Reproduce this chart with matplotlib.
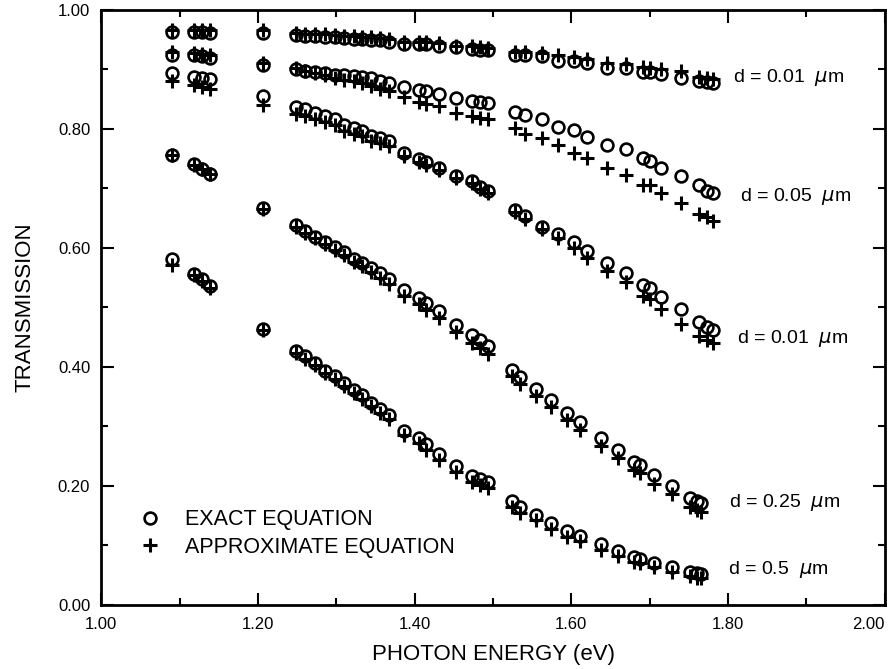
import matplotlib
matplotlib.use("Agg")
import matplotlib.pyplot as plt
from matplotlib.ticker import MultipleLocator

plt.rcParams['font.family'] = ['Liberation Sans', 'DejaVu Sans']

# photon energies (eV); the last group differs a little for the thick films
energy_thin = [1.090, 1.118, 1.128, 1.139, 1.207,
               1.248, 1.260, 1.273, 1.286, 1.298, 1.310, 1.322, 1.333, 1.344, 1.356,
               1.367, 1.386, 1.405, 1.415, 1.431, 1.453, 1.473, 1.483, 1.494,
               1.528, 1.541, 1.562, 1.583, 1.603, 1.620, 1.645, 1.670, 1.691, 1.701,
               1.715, 1.740, 1.763, 1.773, 1.781]
energy_thick = [1.090, 1.118, 1.128, 1.139, 1.207,
                1.248, 1.260, 1.273, 1.286, 1.298, 1.310, 1.322, 1.333, 1.344, 1.356,
                1.367, 1.386, 1.405, 1.415, 1.431, 1.453, 1.473, 1.483, 1.494,
                1.524, 1.535, 1.555, 1.574, 1.595, 1.611, 1.638, 1.659, 1.680, 1.688,
                1.705, 1.728, 1.752, 1.760, 1.766]

exact_1 = [0.963, 0.963, 0.963, 0.962, 0.961,
           0.958, 0.957, 0.956, 0.955, 0.954, 0.953, 0.952, 0.951, 0.950, 0.949,
           0.947, 0.943, 0.942, 0.942, 0.940, 0.937, 0.934, 0.933, 0.932,
           0.925, 0.925, 0.922, 0.915, 0.914, 0.911, 0.902, 0.903, 0.896, 0.895,
           0.893, 0.886, 0.880, 0.879, 0.877]
approx_1 = [0.967, 0.967, 0.967, 0.966, 0.966,
            0.961, 0.960, 0.960, 0.959, 0.958, 0.957, 0.956, 0.955, 0.954, 0.953,
            0.951, 0.947, 0.946, 0.947, 0.944, 0.940, 0.939, 0.937, 0.936,
            0.929, 0.930, 0.927, 0.924, 0.921, 0.918, 0.911, 0.909, 0.904, 0.903,
            0.900, 0.897, 0.888, 0.885, 0.884]

exact_2 = [0.925, 0.924, 0.922, 0.920, 0.907,
           0.900, 0.898, 0.896, 0.894, 0.891, 0.890, 0.889, 0.887, 0.885, 0.881,
           0.877, 0.870, 0.866, 0.863, 0.859, 0.852, 0.847, 0.845, 0.843,
           0.829, 0.823, 0.817, 0.803, 0.799, 0.787, 0.773, 0.766, 0.752, 0.747,
           0.734, 0.721, 0.705, 0.695, 0.693]
approx_2 = [0.929, 0.928, 0.926, 0.924, 0.911,
            0.902, 0.898, 0.894, 0.890, 0.886, 0.883, 0.880, 0.877, 0.873, 0.868,
            0.863, 0.853, 0.846, 0.842, 0.838, 0.827, 0.821, 0.819, 0.816,
            0.801, 0.792, 0.784, 0.773, 0.760, 0.752, 0.735, 0.723, 0.706, 0.705,
            0.692, 0.675, 0.657, 0.652, 0.646]

exact_3 = [0.894, 0.888, 0.886, 0.884, 0.855,
           0.837, 0.833, 0.827, 0.822, 0.816, 0.807, 0.801, 0.797, 0.788, 0.784,
           0.779, 0.760, 0.749, 0.744, 0.735, 0.721, 0.713, 0.702, 0.696,
           0.664, 0.654, 0.636, 0.624, 0.610, 0.595, 0.575, 0.558, 0.537, 0.532,
           0.518, 0.497, 0.476, 0.468, 0.462]
approx_3 = [0.880, 0.874, 0.871, 0.868, 0.841,
            0.825, 0.821, 0.816, 0.811, 0.806, 0.797, 0.792, 0.788, 0.780, 0.776,
            0.771, 0.754, 0.744, 0.739, 0.731, 0.717, 0.710, 0.699, 0.693,
            0.661, 0.648, 0.632, 0.616, 0.600, 0.583, 0.561, 0.542, 0.519, 0.514,
            0.498, 0.472, 0.452, 0.446, 0.440]

exact_4 = [0.757, 0.741, 0.733, 0.725, 0.667,
           0.638, 0.629, 0.619, 0.610, 0.601, 0.593, 0.582, 0.575, 0.567, 0.558,
           0.548, 0.530, 0.516, 0.508, 0.494, 0.470, 0.454, 0.445, 0.435,
           0.395, 0.383, 0.363, 0.344, 0.323, 0.307, 0.281, 0.260, 0.240, 0.236,
           0.219, 0.200, 0.180, 0.175, 0.171]
approx_4 = [0.756, 0.740, 0.732, 0.724, 0.666,
            0.636, 0.626, 0.616, 0.606, 0.597, 0.588, 0.577, 0.569, 0.560, 0.550,
            0.540, 0.520, 0.505, 0.496, 0.482, 0.458, 0.441, 0.432, 0.421,
            0.384, 0.372, 0.352, 0.332, 0.311, 0.294, 0.268, 0.247, 0.227, 0.222,
            0.204, 0.186, 0.165, 0.160, 0.156]

exact_5 = [0.582, 0.557, 0.548, 0.536, 0.464,
           0.427, 0.418, 0.407, 0.394, 0.385, 0.373, 0.361, 0.353, 0.340, 0.330,
           0.319, 0.293, 0.281, 0.270, 0.253, 0.233, 0.216, 0.212, 0.207,
           0.175, 0.165, 0.152, 0.137, 0.124, 0.116, 0.102, 0.091, 0.080, 0.078,
           0.071, 0.063, 0.055, 0.053, 0.052]
approx_5 = [0.572, 0.554, 0.545, 0.533, 0.462,
            0.424, 0.414, 0.403, 0.390, 0.380, 0.368, 0.356, 0.347, 0.334, 0.323,
            0.312, 0.286, 0.272, 0.261, 0.244, 0.224, 0.207, 0.202, 0.196,
            0.164, 0.155, 0.142, 0.128, 0.115, 0.107, 0.093, 0.083, 0.072, 0.070,
            0.063, 0.056, 0.048, 0.046, 0.045]

curve_labels = ["d = 0.01  $\\mu$m", "d = 0.05  $\\mu$m", "d = 0.01  $\\mu$m",
                "d = 0.25  $\\mu$m", "d = 0.5  $\\mu$m"]
label_pos = [(1.806, 0.886), (1.815, 0.686), (1.811, 0.448), (1.801, 0.172), (1.800, 0.059)]

x_ticks = [1.0, 1.2, 1.4, 1.6, 1.8, 2.0]
y_ticks = [0.0, 0.2, 0.4, 0.6, 0.8, 1.0]

curves = [(energy_thin, exact_1, approx_1), (energy_thin, exact_2, approx_2),
          (energy_thin, exact_3, approx_3), (energy_thick, exact_4, approx_4),
          (energy_thick, exact_5, approx_5)]

fig = plt.figure(figsize=(8.88, 6.69), dpi=100, facecolor='w')
ax = fig.add_axes([0.1141, 0.0957, 0.8822, 0.8894])

for i, (en, ex, ap) in enumerate(curves):
    h_ap, = ax.plot(en, ap, linestyle='none', marker='+', markersize=10,
                    markeredgewidth=2.2, color='k')
    h_ex, = ax.plot(en, ex, linestyle='none', marker='o', markersize=8.5,
                    markeredgewidth=1.9, markerfacecolor='none', markeredgecolor='k')
    ax.text(label_pos[i][0], label_pos[i][1], curve_labels[i], fontsize=14,
            va='center', ha='left')

ax.legend([h_ex, h_ap], ["EXACT EQUATION", "APPROXIMATE EQUATION"],
          loc='lower left', bbox_to_anchor=(0.035, 0.065), frameon=False,
          fontsize=15.5, handlelength=1.2, handletextpad=1.0, labelspacing=0.3,
          borderaxespad=0)

ax.set_xlim(1.0, 2.0)
ax.set_ylim(0.0, 1.0)
ax.set_xticks(x_ticks)
ax.set_xticklabels([f"{v:.2f}" for v in x_ticks])
ax.set_yticks(y_ticks)
ax.set_yticklabels([f"{v:.2f}" for v in y_ticks])
ax.xaxis.set_minor_locator(MultipleLocator(0.1))
ax.yaxis.set_minor_locator(MultipleLocator(0.1))
ax.get_xticklabels()[-1].set_ha('right')
ax.tick_params(which='both', direction='in', top=True, right=True, width=1.5,
               labelsize=12)
ax.tick_params(which='major', length=9)
ax.tick_params(which='minor', length=5)
ax.tick_params(axis='x', pad=9)
ax.tick_params(axis='y', pad=8)
for sp in ax.spines.values():
    sp.set_linewidth(2)

ax.set_xlabel("PHOTON ENERGY (eV)", fontsize=16, labelpad=8)
ax.set_ylabel("TRANSMISSION", fontsize=16, labelpad=16)

fig.savefig("out.png", dpi=100)
